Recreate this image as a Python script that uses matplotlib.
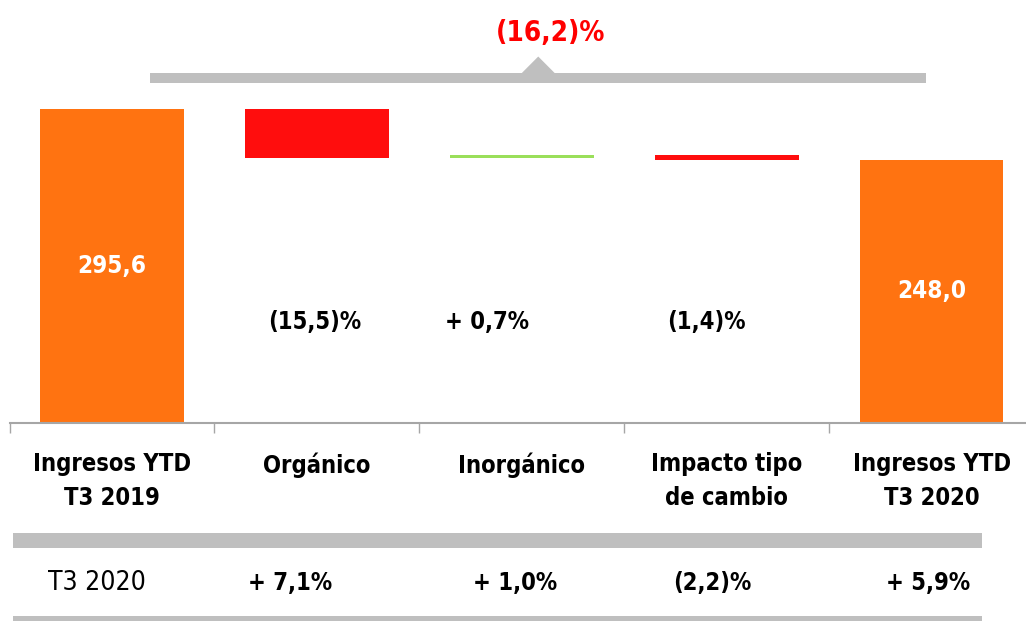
import matplotlib
matplotlib.use('Agg')
import matplotlib.pyplot as plt
from matplotlib.patches import Rectangle, Polygon

plt.rcParams['font.family'] = ['DejaVu Sans']
plt.rcParams['font.stretch'] = 'condensed'

# data
categories = ['Ingresos YTD\nT3 2019', 'Orgánico', 'Inorgánico',
              'Impacto tipo\nde cambio', 'Ingresos YTD\nT3 2020']
start_value = 295.6
end_value = 248.0
deltas = [-45.8, 2.1, -4.1]
delta_labels = ['(15,5)%', '+ 0,7%', '(1,4)%']
total_label = '(16,2)%'
row_title = 'T3 2020'
row_values = ['+ 7,1%', '+ 1,0%', '(2,2)%', '+ 5,9%']

ORANGE = '#FF7311'
RED = '#FF0D0D'
GREEN = '#9ADF5A'
GRAY = '#BFBFBF'

W, H = 1026, 621
fig = plt.figure(figsize=(W / 100, H / 100), dpi=100)

# axes: baseline at y=423 px, top at 0 px, category spacing 205 px
px_per_unit = 314 / 295.6
ax = fig.add_axes([9.5 / W, (H - 423) / H, (W - 9.5) / W, 423 / H])
ax.set_xlim(-0.5, 4.46)
ax.set_ylim(0, 423 / px_per_unit)

width = 0.7
ax.bar(0, start_value, width=width, color=ORANGE)
ax.text(0, start_value * 0.5, f'{start_value:.1f}'.replace('.', ','),
        ha='center', va='center', color='white', fontsize=17.5, fontweight='bold')

level = start_value
colors = [RED if d < 0 else GREEN for d in deltas]
for i, (d, c) in enumerate(zip(deltas, colors), start=1):
    ax.bar(i, d, bottom=level, width=width, color=c)
    level += d

ax.bar(4, end_value, width=width, color=ORANGE)
ax.text(4, end_value * 0.5, f'{end_value:.1f}'.replace('.', ','),
        ha='center', va='center', color='white', fontsize=17.5, fontweight='bold')

# percentage labels under the change bars
label_x = [0.99, 1.83, 2.9]
for x, lab in zip(label_x, delta_labels):
    ax.text(x, 95, lab, ha='center', va='center', fontsize=17,
            fontweight='bold', color='black')

# top bracket with total change
ax.add_patch(Rectangle((0.185, 320), 3.785, 9.5, color=GRAY, lw=0, clip_on=False))
ax.add_patch(Polygon([(2.0, 329.5), (2.16, 329.5), (2.08, 345)],
                     closed=True, color=GRAY, lw=0, clip_on=False))
ax.text(2.14, 367, total_label, ha='center', va='center', fontsize=20,
        fontweight='bold', color='#FF0000')

# axis styling
for s in ['left', 'right', 'top']:
    ax.spines[s].set_visible(False)
ax.spines['bottom'].set_color('#A6A6A6')
ax.spines['bottom'].set_linewidth(1.5)
ax.set_yticks([])
ax.set_xticks([-0.5, 0.5, 1.5, 2.5, 3.5])
ax.set_xticklabels([])
ax.tick_params(axis='x', which='major', length=7, color='#A6A6A6', width=1)
ax.set_xticks(range(len(categories)), minor=True)
ax.set_xticklabels(categories, minor=True, fontsize=17, fontweight='bold',
                   linespacing=1.5)
ax.tick_params(axis='x', which='minor', length=0, pad=21)

# bottom table row
fig.add_artist(Rectangle((13 / W, (H - 548) / H), (982 - 13) / W, 15 / H,
                         transform=fig.transFigure, color=GRAY, lw=0))
fig.add_artist(Rectangle((13 / W, 0), (982 - 13) / W, 5 / H,
                         transform=fig.transFigure, color=GRAY, lw=0))
fig.text(97 / W, (H - 583) / H, row_title, ha='center', va='center', fontsize=19)
for xp, v in zip([290, 515, 712, 928], row_values):
    fig.text(xp / W, (H - 583) / H, v, ha='center', va='center', fontsize=17,
             fontweight='bold')

fig.savefig('out.png', dpi=100)
